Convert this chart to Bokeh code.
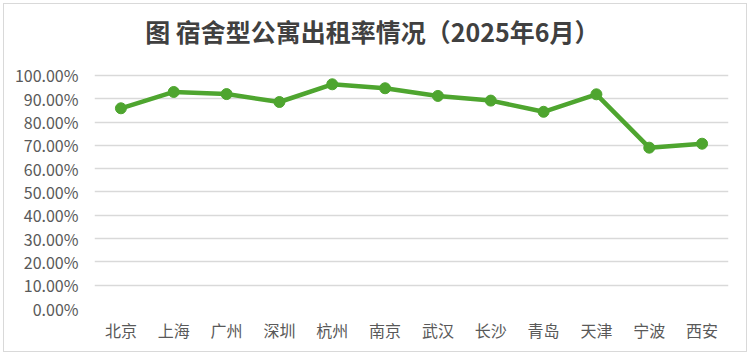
from bokeh.plotting import figure
from bokeh.models import (FactorRange, Range1d, FixedTicker, NumeralTickFormatter,
                          ColumnDataSource, Label)
from bokeh.embed import file_html
from bokeh.resources import INLINE

cities = ["北京", "上海", "广州", "深圳", "杭州", "南京", "武汉", "长沙", "青岛", "天津", "宁波", "西安"]
occupancy = [0.859, 0.929, 0.920, 0.886, 0.962, 0.945, 0.912, 0.892, 0.844, 0.919, 0.690, 0.707]
y_ticks = [0.0, 0.1, 0.2, 0.3, 0.4, 0.5, 0.6, 0.7, 0.8, 0.9, 1.0]
title_text = "图 宿舍型公寓出租率情况（2025年6月）"

FONT = "Noto Sans CJK SC"
GREEN = "#4ea52f"

src = ColumnDataSource(dict(city=cities, rate=occupancy))

p = figure(width=744, height=349, x_range=FactorRange(*cities, range_padding=0),
           y_range=Range1d(0, 1.2614), output_backend="svg", toolbar_location=None,
           min_border_left=90, min_border_right=20, min_border_top=10, min_border_bottom=45)
p.margin = (3, 3, 4, 3)
p.styles = {"border": "1.5px solid #d9d9d9", "box-sizing": "border-box"}
p.outline_line_color = None
p.background_fill_color = "white"
p.border_fill_color = "white"

p.line("city", "rate", source=src, line_color=GREEN, line_width=4.5)
p.scatter("city", "rate", source=src, size=11, fill_color=GREEN, line_color=GREEN)

p.yaxis.ticker = FixedTicker(ticks=y_ticks)
p.yaxis.formatter = NumeralTickFormatter(format="0.00%")
p.yaxis.axis_line_color = None
p.yaxis.major_tick_line_color = None
p.yaxis.minor_tick_line_color = None
p.yaxis.major_label_text_font = FONT
p.yaxis.major_label_text_font_size = "16px"
p.yaxis.major_label_text_color = "#595959"
p.yaxis.major_label_standoff = 10

p.xaxis.axis_line_color = None
p.xaxis.major_tick_line_color = None
p.xaxis.major_label_text_font = FONT
p.xaxis.major_label_text_font_size = "16px"
p.xaxis.major_label_text_color = "#595959"
p.xaxis.major_label_standoff = 3

p.xgrid.grid_line_color = None
p.ygrid.ticker = FixedTicker(ticks=y_ticks)
p.ygrid.grid_line_color = "#d9d9d9"
p.ygrid.grid_line_width = 1.5

title = Label(x=5.26, y=1.189, text=title_text,
              text_font=FONT, text_font_size="25px", text_font_style="bold",
              text_color="#404040", text_align="center", text_baseline="middle")
p.add_layout(title)

open("out.html", "w").write(file_html(p, INLINE))
